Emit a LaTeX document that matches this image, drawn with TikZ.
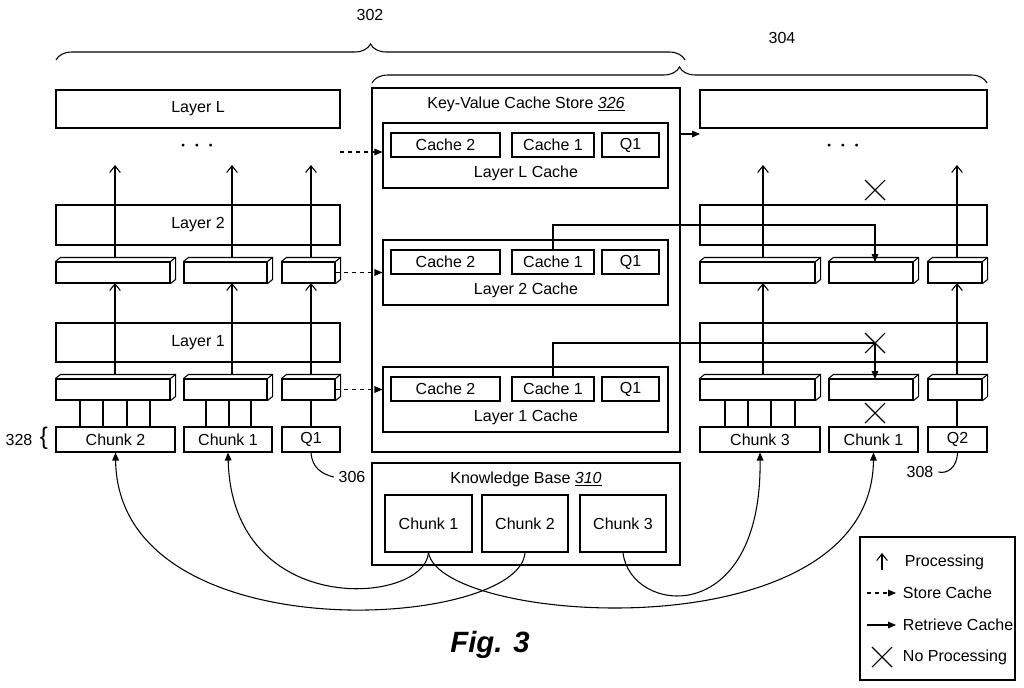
\documentclass[tikz,border=0pt]{standalone}
\usepackage{fontspec}
\setmainfont{Liberation Sans}
\usetikzlibrary{positioning,arrows.meta,calc,decorations.pathreplacing}

\tikzset{
  box/.style={draw,thick,inner sep=0pt,font=\fontsize{12}{14}\selectfont},
  proc/.style={-{Straight Barb[length=5pt,width=8pt]}},
  store/.style={dashed,-{Triangle[length=6pt,width=5pt]}},
  fetch/.style={-{Triangle[length=6pt,width=5pt]}},
  lbl/.style={font=\fontsize{12}{14}\selectfont},
  dots/.style={font=\fontsize{20}{20}\selectfont},
}
% box by pixel corners: name, x1, y1, x2, y2, text
\newcommand{\boxat}[6]{%
  \node[box,minimum width={((#4)-(#2))*0.75pt},minimum height={((#5)-(#3))*0.75pt}]
    (#1) at ({((#2)+(#4))/2},{((#3)+(#5))/2}) {#6};}
% slab with a top face and a side face: name, x1, y1, x2, y2
\newcommand{\slabat}[5]{%
  \boxat{#1}{#2}{#3+4}{#4-5}{#5}{}
  \draw[thick] (#1.north west) -- ++(5,-4) -| ($(#1.south east)+(5,-4)$) -- (#1.south east);
  \draw[thick] (#1.north east) -- ++(5,-4);}
\newcommand{\cross}[1]{%
  \draw[thick] ($(#1)+(-10,-10)$) -- ($(#1)+(10,10)$) ($(#1)+(-10,10)$) -- ($(#1)+(10,-10)$);}

\begin{document}
\begin{tikzpicture}[x=0.75pt,y=-0.75pt,line width=0.8pt]
\useasboundingbox (0,0) rectangle (1024,687);

% braces
\draw[thick,decorate,decoration={brace,amplitude=12pt}] (56,60) -- (685,60);
\node[lbl] (n302) at (370,15) {302};
\draw[thick,decorate,decoration={brace,amplitude=12pt}] (372,83) -- (987,83);
\node[lbl] (n304) at (782,38) {304};

% left column
\boxat{layLl}{56}{90}{340}{128}{Layer L}
\boxat{lay2l}{56}{205}{340}{245}{Layer 2}
\boxat{lay1l}{56}{323}{340}{362}{Layer 1}
\node[dots] (dotsl) at (197,146) {$\cdot\cdot\cdot$};
\slabat{bl2a}{56}{258}{175}{283}
\slabat{bl2b}{184}{258}{272}{283}
\slabat{bl2c}{282}{258}{340}{283}
\slabat{bl1a}{56}{375}{175}{400}
\slabat{bl1b}{184}{375}{272}{400}
\slabat{bl1c}{282}{375}{340}{400}
\boxat{lc2}{56}{427}{175}{452}{Chunk 2}
\boxat{lc1}{184}{427}{272}{452}{Chunk 1}
\boxat{lq1}{282}{427}{340}{452}{Q1}
\foreach \x in {80,103,127,150} \draw[thick] (\x,427) -- (\x,400);
\foreach \x in {206,229,251} \draw[thick] (\x,427) -- (\x,400);
\draw[thick] (311,427) -- (311,400);
\foreach \x in {115,232,311} {
  \draw[proc] (\x,375) -- (\x,283);
  \draw[proc] (\x,258) -- (\x,165);
}
\node[lbl] (n328) at (19,440) {328};
\node[lbl,font=\fontsize{18}{18}\selectfont] (br328) at (44,438) {\{};
\node[lbl] (n306) at (352,477) {306};
\draw[thick] (lq1.south) .. controls (312,468) and (322,474) .. (n306.west);

% key-value cache store
\boxat{kv}{372}{88}{680}{452}{}
\node[lbl] (kvt) at (526,104) {Key-Value Cache Store \underline{\textit{326}}};
\foreach \n/\y/\t in {L/123/L,B/240/2,A/367/1} {
  \boxat{c\n}{383}{\y}{668}{\y+65}{}
  \node[lbl] (c\n t) at (526,\y+50) {Layer \t{} Cache};
  \boxat{c\n c2}{391}{\y+10}{500}{\y+34}{Cache 2}
  \boxat{c\n c1}{512}{\y+10}{594}{\y+34}{Cache 1}
  \boxat{c\n q}{602}{\y+10}{659}{\y+34}{Q1}
}
\draw[store] (340,152) -- (cL.west |- 0,152);
\draw[store] (bl2c.east) -- (cB.west |- bl2c.east);
\draw[store] (bl1c.east) -- (cA.west |- bl1c.east);
\draw[fetch] (kv.east |- 0,134) -- (700,134);

% knowledge base
\boxat{kb}{372}{463}{680}{565}{}
\node[lbl] (kbt) at (526,479) {Knowledge Base \underline{\textit{310}}};
\boxat{k1}{385}{495}{472}{552}{Chunk 1}
\boxat{k2}{482}{495}{568}{552}{Chunk 2}
\boxat{k3}{580}{495}{666}{552}{Chunk 3}

% right column
\boxat{layLr}{700}{90}{987}{128}{}
\boxat{lay2r}{700}{205}{987}{245}{}
\boxat{lay1r}{700}{323}{987}{362}{}
\node[dots] (dotsr) at (843,146) {$\cdot\cdot\cdot$};
\slabat{br2a}{700}{258}{820}{283}
\slabat{br2b}{829}{258}{918}{283}
\slabat{br2c}{928}{258}{987}{283}
\slabat{br1a}{700}{375}{820}{400}
\slabat{br1b}{829}{375}{918}{400}
\slabat{br1c}{928}{375}{987}{400}
\boxat{rc3}{700}{427}{820}{452}{Chunk 3}
\boxat{rc1}{829}{427}{918}{452}{Chunk 1}
\boxat{rq2}{928}{427}{987}{452}{Q2}
\foreach \x in {725,748,771,795} \draw[thick] (\x,427) -- (\x,400);
\draw[thick] (957,427) -- (957,400);
\foreach \x in {763,957} {
  \draw[proc] (\x,375) -- (\x,283);
  \draw[proc] (\x,258) -- (\x,165);
}
\draw[fetch] (cBc1.north) |- (875,225) -- (875,262);
\draw[fetch] (cAc1.north) |- (875,343) -- (875,379);
\cross{875,190}
\cross{875,343}
\cross{875,413}
\node[lbl] (n308) at (920,472) {308};
\draw[thick] (rq2.south) .. controls (957,468) and (947,474) .. (n308.east);

% knowledge base fetches
\draw[fetch] (k1.south) .. controls (425,605) and (232,620) .. (lc1.south);
\draw[fetch] (k2.south) .. controls (520,630) and (118,655) .. (lc2.south);
\draw[fetch] (k1.south) .. controls (440,625) and (872,655) .. (rc1.south);
\draw[fetch] (k3.south) .. controls (630,615) and (762,630) .. (rc3.south);

% legend
\boxat{leg}{860}{537}{1015}{680}{}
\draw[proc] (882,570) -- (882,553);
\node[lbl,anchor=west] (lg1) at (900,562) {Processing};
\draw[store] (867,593) -- (896,593);
\node[lbl,anchor=west] (lg2) at (898,593) {Store Cache};
\draw[fetch] (867,625) -- (896,625);
\node[lbl,anchor=west] (lg3) at (898,625) {Retrieve Cache};
\cross{882,657}
\node[lbl,anchor=west] (lg4) at (898,657) {No Processing};

\node[font=\fontsize{22}{24}\selectfont\bfseries\itshape] (fig) at (490,645) {Fig. 3};
\end{tikzpicture}
\end{document}
